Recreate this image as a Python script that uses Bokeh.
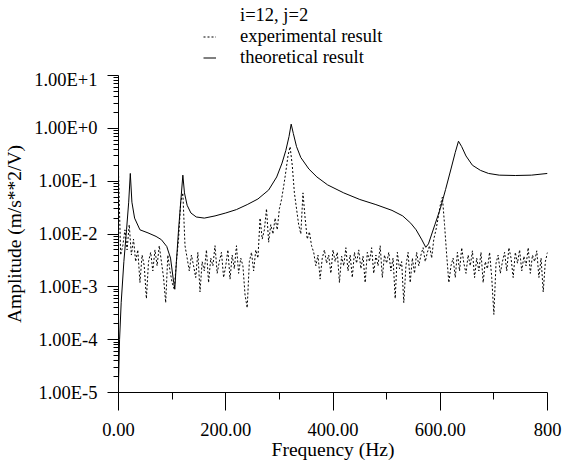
import numpy as np
from bokeh.plotting import figure
from bokeh.layouts import column
from bokeh.models import (Range1d, FixedTicker, CustomJSTickFormatter, Legend,
                          LegendItem)
from bokeh.embed import file_html
from bokeh.resources import INLINE

# ---------------- data ----------------
theo_freq = [0, 2, 5, 10, 15, 19, 22, 25, 30, 40, 55, 70, 80, 90, 97, 103, 105,
             108, 112, 116, 120, 123, 128, 135, 145, 160, 180, 200, 220, 240, 260,
             280, 295, 305, 312, 318, 322, 326, 332, 340, 355, 370, 390, 420, 450,
             480, 510, 530, 545, 555, 565, 573, 578, 590, 600, 610, 620, 628, 634,
             640, 648, 660, 675, 690, 710, 740, 770, 800]
theo_amp = [1.5e-5, 1e-4, 5e-4, 3e-3, 0.012, 0.04, 0.14, 0.04, 0.02, 0.012, 0.0105,
            0.009, 0.0078, 0.0058, 0.0035, 0.0012, 0.0009, 0.003, 0.012, 0.04, 0.13,
            0.06, 0.035, 0.025, 0.021, 0.02, 0.022, 0.025, 0.029, 0.036, 0.046, 0.068,
            0.12, 0.22, 0.38, 0.7, 1.2, 0.8, 0.45, 0.28, 0.17, 0.12, 0.085, 0.06,
            0.045, 0.036, 0.028, 0.022, 0.016, 0.012, 0.008, 0.0056, 0.0065, 0.015,
            0.03, 0.07, 0.17, 0.35, 0.57, 0.45, 0.3, 0.2, 0.16, 0.14, 0.13, 0.128,
            0.13, 0.14]

exp_amp = [
    0.15, 0.004, 0.006, 0.012, 0.005, 0.015, 0.004, 0.008, 0.003, 0.005,      # 0-36
    0.0012, 0.004, 0.0025, 0.0006, 0.003, 0.0045, 0.002, 0.005, 0.0025, 0.006,  # 40-76
    0.003, 0.0015, 0.0005, 0.004, 0.002, 0.0012, 0.0009, 0.003, 0.008, 0.04,   # 80-116
    0.06, 0.006, 0.0035, 0.002, 0.004, 0.0025, 0.0015, 0.0045, 0.0008, 0.003,  # 120-156
    0.002, 0.005, 0.0012, 0.0035, 0.0025, 0.006, 0.0018, 0.003, 0.0045, 0.0015,  # 160-196
    0.0025, 0.005, 0.0014, 0.004, 0.0022, 0.006, 0.0018, 0.0035, 0.0025, 0.0007,  # 200-236
    0.0004, 0.003, 0.0045, 0.002, 0.005, 0.0035, 0.02, 0.008, 0.012, 0.03,     # 240-276
    0.007, 0.015, 0.01, 0.02, 0.012, 0.03, 0.045, 0.08, 0.15, 0.3,             # 280-316
    0.45, 0.2, 0.06, 0.03, 0.015, 0.01, 0.06, 0.02, 0.008, 0.011,              # 320-356
    0.006, 0.0045, 0.0025, 0.004, 0.0014, 0.0035, 0.005, 0.0028, 0.004, 0.0018,  # 360-396
    0.005, 0.003, 0.0045, 0.0012, 0.0038, 0.0025, 0.0055, 0.002, 0.004, 0.0015,  # 400-436
    0.0045, 0.0028, 0.005, 0.0022, 0.0038, 0.0012, 0.0045, 0.003, 0.0055, 0.0018,  # 440-476
    0.004, 0.0025, 0.006, 0.0015, 0.004, 0.0028, 0.0045, 0.002, 0.0035, 0.0006,  # 480-516
    0.0045, 0.0022, 0.003, 0.0005, 0.0025, 0.0045, 0.0012, 0.0035, 0.0018, 0.0045,  # 520-556
    0.0025, 0.004, 0.0055, 0.003, 0.0045, 0.006, 0.0035, 0.008, 0.012, 0.02,   # 560-596
    0.035, 0.05, 0.015, 0.004, 0.0012, 0.0025, 0.0035, 0.0015, 0.0045, 0.002,  # 600-636
    0.0055, 0.0028, 0.0018, 0.004, 0.0025, 0.0048, 0.0015, 0.0035, 0.002, 0.0045,  # 640-676
    0.0012, 0.003, 0.0022, 0.0045, 0.0015, 0.0003, 0.0028, 0.004, 0.0018, 0.003,  # 680-716
    0.0045, 0.002, 0.0055, 0.0035, 0.0015, 0.0045, 0.0028, 0.005, 0.002, 0.0038,  # 720-756
    0.0025, 0.0055, 0.0018, 0.004, 0.003, 0.0048, 0.0015, 0.0035, 0.0008, 0.003,  # 760-796
    0.0045,                                                                    # 800
]
exp_freq = list(np.linspace(0, 800, len(exp_amp)))

x_ticks = [0, 200, 400, 600, 800]
x_minor = [100, 300, 500, 700]
x_tick_labels = ["0.00", "200.00", "400.00", "600.00", "800"]
y_ticks = [1e-5, 1e-4, 1e-3, 1e-2, 1e-1, 1e0, 1e1]
y_tick_labels = ["1.00E-5", "1.00E-4", "1.00E-3", "1.00E-2", "1.00E-1", "1.00E+0", "1.00E+1"]

legend_title = "i=12, j=2"
series_names = ["experimental result", "theoretical result"]
x_label = "Frequency (Hz)"
y_label = "Amplitude (m/s**2/V)"

FONT = "Liberation Serif"
TICK_FS = "18.5px"
LABEL_FS = "19.5px"
EXP_STYLE = dict(line_color="black", line_width=1, line_dash="2 2")
THEO_STYLE = dict(line_color="black", line_width=1)

# ---------------- legend strip (top) ----------------
# its frame is aligned with the main plot's frame by the column layout
top = figure(width=563, height=69, x_range=Range1d(0, 1), y_range=Range1d(0, 1),
             x_axis_location=None, y_axis_location=None,
             output_backend="svg", toolbar_location=None, min_border=0)
top.outline_line_color = None
top.grid.visible = False
off_x, off_y = [0, 1], [-10, -10]   # outside the strip's range: only the legend swatch shows
lg_blank = top.line(off_x, off_y, line_alpha=0)
lg_exp = top.line(off_x, off_y, **EXP_STYLE)
lg_theo = top.line(off_x, off_y, **THEO_STYLE)
legend = Legend(items=[LegendItem(label=legend_title, renderers=[lg_blank]),
                       LegendItem(label=series_names[0], renderers=[lg_exp]),
                       LegendItem(label=series_names[1], renderers=[lg_theo])],
                location=(85, 1), orientation="vertical",
                padding=0, margin=0, spacing=0, label_height=21, glyph_height=21,
                glyph_width=13, label_standoff=24,
                label_text_font=FONT, label_text_font_size=TICK_FS,
                label_text_color="black",
                background_fill_alpha=0, border_line_color=None)
top.add_layout(legend)

# ---------------- main plot ----------------
p = figure(width=563, height=396, y_axis_type="log",
           x_range=Range1d(0, 800), y_range=Range1d(1e-5, 10),
           output_backend="svg", toolbar_location=None,
           min_border_left=118, min_border_right=16,
           min_border_top=6, min_border_bottom=73)
p.outline_line_color = None
p.grid.visible = False
p.background_fill_color = "white"
p.border_fill_color = "white"

p.line(exp_freq, exp_amp, **EXP_STYLE)
p.line(theo_freq, theo_amp, **THEO_STYLE)

# x axis
xa = p.xaxis[0]
xa.ticker = FixedTicker(ticks=x_ticks, minor_ticks=x_minor)
xa.formatter = CustomJSTickFormatter(args=dict(vals=x_ticks, labs=x_tick_labels), code="""
let best = 0, bd = Infinity;
for (let i = 0; i < vals.length; i++) { const d = Math.abs(vals[i] - tick); if (d < bd) { bd = d; best = i; } }
return labs[best];
""")
xa.major_tick_out = 18
xa.major_tick_in = 0
xa.minor_tick_out = 7
xa.minor_tick_in = 0
xa.major_label_standoff = 12
xa.axis_label = x_label
xa.axis_label_standoff = 0

# y axis
ya = p.yaxis[0]
y_minor = [m * t for t in y_ticks[:-1] for m in range(2, 10)]
ya.ticker = FixedTicker(ticks=y_ticks, minor_ticks=y_minor)
ya.formatter = CustomJSTickFormatter(args=dict(vals=y_ticks, labs=y_tick_labels), code="""
let best = 0, bd = Infinity;
for (let i = 0; i < vals.length; i++) { const d = Math.abs(Math.log10(vals[i]) - Math.log10(tick)); if (d < bd) { bd = d; best = i; } }
return labs[best];
""")
ya.major_tick_out = 11
ya.major_tick_in = 0
ya.minor_tick_out = 5
ya.minor_tick_in = 0
ya.major_label_standoff = 10
ya.axis_label = y_label
ya.axis_label_standoff = 6

for ax in (xa, ya):
    ax.axis_line_color = "black"
    ax.major_tick_line_color = "black"
    ax.minor_tick_line_color = "black"
    ax.major_label_text_font = FONT
    ax.major_label_text_font_size = TICK_FS
    ax.major_label_text_color = "black"
    ax.axis_label_text_font = FONT
    ax.axis_label_text_font_size = LABEL_FS
    ax.axis_label_text_font_style = "normal"
    ax.axis_label_text_color = "black"

layout = column(top, p, spacing=0)
open("out.html", "w").write(file_html(layout, INLINE))
